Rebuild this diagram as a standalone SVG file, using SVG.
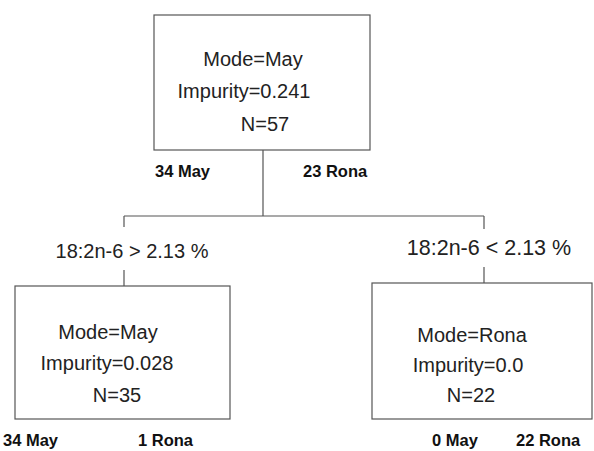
<svg xmlns="http://www.w3.org/2000/svg" width="594" height="451" viewBox="0 0 594 451">
<style>
.box{fill:#fff;stroke:#555;stroke-width:1.2}
.t{font-family:"Liberation Sans",Arial,sans-serif;font-size:20px;fill:#222;text-anchor:middle}
.c{font-family:"Liberation Sans",Arial,sans-serif;font-size:20px;fill:#222;text-anchor:middle}
.b{font-family:"Liberation Sans",Arial,sans-serif;font-size:16.5px;font-weight:bold;fill:#111}
.ln{stroke:#555;stroke-width:1.2;fill:none}
</style>
<rect width="594" height="451" fill="#fff"/>
<g id="connectors">
<path class="ln" d="M263,150 V216 M124,216 H484 M124,216 V227 M124,270 V286 M484,216 V229 M484,267 V283"/>
</g>
<g id="root">
<rect class="box" x="154" y="15" width="216" height="135"/>
<text class="t" x="253" y="66">Mode=May</text>
<text class="t" x="244" y="98">Impurity=0.241</text>
<text class="t" x="265" y="131">N=57</text>
<text class="b" x="155" y="177">34 May</text>
<text class="b" x="303" y="177">23 Rona</text>
</g>
<g id="label-left">
<text class="c" x="132" y="258">18:2n-6 &gt; 2.13 %</text>
</g>
<g id="label-right">
<text class="c" x="489" y="255" style="font-size:21.5px">18:2n-6 &lt; 2.13 %</text>
</g>
<g id="left">
<rect class="box" x="15" y="286" width="215" height="133"/>
<text class="t" x="108" y="339">Mode=May</text>
<text class="t" x="107" y="370">Impurity=0.028</text>
<text class="t" x="117" y="402">N=35</text>
<text class="b" x="3" y="446">34 May</text>
<text class="b" x="138" y="446">1 Rona</text>
</g>
<g id="right">
<rect class="box" x="372" y="283" width="220" height="136"/>
<text class="t" x="472" y="342">Mode=Rona</text>
<text class="t" x="468" y="372">Impurity=0.0</text>
<text class="t" x="471" y="402">N=22</text>
<text class="b" x="432" y="446">0 May</text>
<text class="b" x="516" y="446">22 Rona</text>
</g>
</svg>
